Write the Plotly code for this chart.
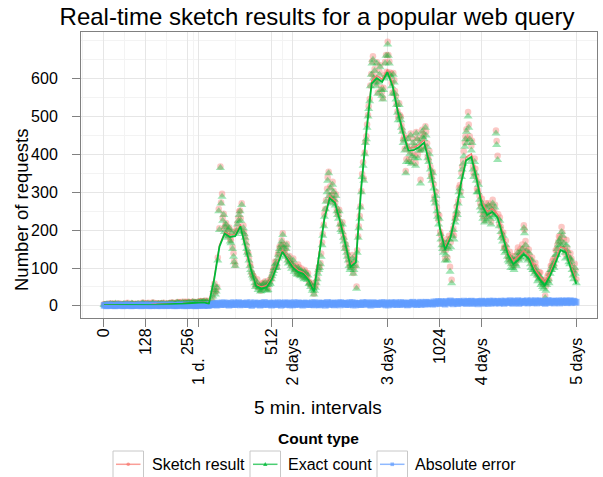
import numpy as np
import plotly.graph_objects as go

# ---------------- data ----------------
# x positions are 5-minute interval indices
tick_vals = [0, 128, 256, 288, 512, 576, 864, 1024, 1152, 1440]
tick_text = ["0", "128", "256", "1 d.", "512", "2 days", "3 days", "1024", "4 days", "5 days"]
is_day_label = [False, False, False, True, False, True, True, False, True, True]
y_ticks = [0, 100, 200, 300, 400, 500, 600]

point_step = 5     # scatter samples every 5 intervals
offset_b = 2       # second sample set starts at interval 2
line_step = 16     # line samples every 16 intervals

# exact counts sampled at t = 0, 5, 10, ...
exact_pts_a = [
    3, 1, 4, 2, 5, 2, 3, 6, 1, 4, 2, 3, 5, 2, 4, 1, 3, 6, 2, 4,
    3, 5, 2, 4, 6, 3, 2, 5, 4, 3, 7, 2, 4, 5, 3, 6, 4, 2, 5, 3,
    6, 4, 7, 5, 3, 8, 6, 4, 9, 5, 7, 6, 8, 5, 10, 7, 9, 6, 8, 11,
    9, 12, 7, 10, 6, 4,
    14, 42, 30, 48, 250, 364, 288, 240, 208, 185, 200, 170, 192, 130,
    105, 198, 225, 250, 266, 205, 180, 150, 135, 105, 88, 75, 60, 55, 42, 52, 40, 58, 45, 55,
    42, 62, 70, 85, 100, 112, 125, 150, 160, 187, 140, 150, 120, 128, 105, 110, 90, 100, 82, 95,
    78, 88, 70, 85, 68, 58, 50, 40, 30, 48, 70, 95, 110, 160, 210, 255, 300, 350, 310, 285,
    300, 265, 250, 230, 215, 195, 180, 150, 140, 120, 95, 110, 85, 120, 45, 180, 230, 300, 370, 400,
    440, 500, 540, 610, 650, 620, 580, 560, 610, 570, 545, 600, 660, 690, 640, 605, 560, 590, 545, 510,
    530, 490, 460, 440, 350, 420, 380, 450, 395, 420, 370, 440, 410, 323, 460, 440, 470, 420, 380, 360,
    330, 310, 270, 250, 215, 190, 160, 140, 120, 165, 150, 90, 60, 200, 220, 250, 270, 310, 340, 375,
    420, 460, 500, 440, 410, 360, 380, 330, 300, 280, 250, 230, 220, 260, 235, 250, 215, 270, 240, 455,
    385, 210, 195, 170, 150, 160, 130, 115, 100, 125, 95, 110, 130, 120, 140, 150, 205, 160, 130, 140,
    110, 120, 95, 100, 80, 70, 75, 60, 45, 21, 55, 70, 85, 95, 110, 120, 135, 160, 175, 195,
    150, 140, 160, 130, 110, 117, 80, 100, 60,
]

# exact counts sampled at t = 2, 7, 12, ...
exact_pts_b = [
    2, 4, 1, 3, 2, 5, 1, 3, 4, 2, 3, 1, 4, 2, 5, 3, 2, 4, 1, 3,
    4, 2, 3, 6, 2, 4, 5, 3, 2, 6, 3, 4, 2, 5, 4, 3, 6, 2, 4, 5,
    5, 7, 4, 6, 8, 5, 7, 5, 6, 8, 6, 9, 7, 6, 8, 9, 7, 10, 8, 9,
    10, 8, 11, 7, 5, 3,
    25, 55, 38, 120, 200, 270, 225, 195, 215, 180, 205, 165, 150, 115, 190, 215, 240, 225, 195, 190,
    165, 140, 120, 95, 80, 70, 50, 62, 48, 38, 52, 48, 62, 40, 55, 58, 78, 92, 110, 100,
    135, 145, 170, 155, 130, 160, 112, 115, 98, 120, 95, 85, 100, 80, 92, 75, 90, 72, 80, 60,
    55, 45, 40, 60, 85, 100, 130, 185, 235, 275, 330, 290, 270, 320, 280, 290, 240, 250, 200, 215,
    170, 160, 130, 105, 100, 125, 95, 105, 140, 205, 260, 340, 330, 430, 470, 520, 580, 640, 600, 590,
    640, 590, 630, 555, 570, 640, 610, 660, 610, 580, 610, 560, 530, 490, 500, 470, 430, 410, 380, 440,
    400, 375, 430, 390, 455, 390, 430, 410, 445, 415, 450, 390, 400, 340, 350, 280, 290, 235, 230, 175,
    150, 160, 135, 120, 175, 155, 185, 175, 230, 240, 300, 290, 360, 395, 440, 430, 470, 380, 430, 340,
    350, 300, 320, 260, 270, 240, 250, 225, 265, 230, 255, 235, 260, 425, 230, 225, 180, 185, 140, 145,
    120, 130, 110, 100, 120, 105, 140, 130, 125, 135, 192, 145, 120, 125, 100, 95, 85, 90, 65, 80,
    55, 50, 60, 40, 65, 60, 95, 105, 100, 135, 150, 170, 160, 185, 165, 125, 145, 115, 125, 95,
    70, 85,
]

# absolute error of the sketch at the same sample times
abs_err_a = [
    1, 2, 0, 3, 1, 2, 1, 0, 2, 3, 1, 2, 0, 1, 3, 2, 1, 0, 2, 1,
    2, 1, 3, 0, 2, 1, 2, 3, 1, 0, 2, 1, 3, 2, 1, 0, 2, 3, 1, 2,
    1, 3, 2, 0, 1, 2, 3, 1, 2, 0, 3, 1, 2, 3, 1, 2, 0, 1, 3, 2,
    2, 1, 3, 2, 1, 4,
    5, 3, 7, 2, 6, 4, 8, 3, 5, 7, 2, 6, 4, 9,
    3, 6, 8, 2, 5, 7, 4, 9, 3, 6, 1, 5, 8, 4, 7, 2, 6, 3, 9, 5,
    4, 7, 2, 8, 5, 3, 9, 6, 1, 5, 7, 3, 8, 4, 6, 2, 9, 5, 3, 7,
    6, 2, 8, 4, 7, 3, 5, 9, 2, 6, 4, 8, 3, 7, 5, 1, 9, 4, 6, 8,
    3, 7, 5, 9, 2, 6, 8, 4, 7, 3, 9, 5, 2, 8, 6, 4, 7, 3, 9, 5,
    8, 4, 6, 2, 9, 5, 7, 3, 8, 6, 4, 9, 2, 7, 5, 8, 3, 6, 9, 4,
    5, 9, 3, 7, 6, 2, 8, 5, 9, 4, 7, 3, 6, 10, 5, 8, 4, 9, 6, 7,
    7, 11, 5, 9, 12, 6, 10, 8, 4, 11, 7, 13, 9, 5, 10, 12, 6, 9, 11, 8,
    10, 6, 12, 8, 13, 7, 9, 11, 5, 10, 12, 8, 6, 11, 9, 13, 7, 10, 12, 8,
    11, 7, 13, 9, 6, 12, 10, 8, 14, 7, 11, 9, 13, 6, 10, 12, 8, 11, 14, 9,
    12, 8, 10, 14, 7, 11, 13, 9, 12, 6, 10, 14, 8, 11, 13, 9, 12, 10, 7, 13,
    11, 9, 14, 10, 12, 8, 13, 11, 10,
]

abs_err_b = [
    2, 0, 1, 3, 2, 1, 0, 2, 1, 3, 2, 0, 1, 2, 3, 1, 0, 2, 1, 2,
    1, 3, 0, 2, 1, 3, 2, 0, 1, 2, 3, 1, 0, 2, 1, 3, 2, 1, 0, 2,
    3, 1, 2, 1, 0, 2, 3, 2, 1, 3, 0, 2, 1, 2, 3, 0, 2, 1, 2, 3,
    1, 2, 3, 1, 2, 3,
    6, 4, 2, 8, 5, 3, 7, 9, 4, 6, 2, 8, 5, 3, 7, 4, 9, 6, 3, 5,
    7, 3, 5, 9, 2, 6, 4, 8, 5, 2, 7, 9, 3, 6, 4, 8, 2, 5, 7, 3,
    5, 8, 3, 6, 9, 4, 7, 2, 8, 5, 3, 6, 9, 4, 7, 2, 5, 8, 6, 3,
    4, 7, 9, 3, 6, 2, 8, 5, 7, 4, 9, 3, 6, 8, 2, 5, 7, 4, 9, 6,
    7, 3, 5, 8, 4, 9, 6, 2, 7, 5, 3, 8, 6, 4, 9, 7, 2, 5, 8, 6,
    3, 7, 5, 9, 6, 4, 8, 2, 6, 9, 5, 7, 3, 8, 4, 6, 9, 5, 7, 3,
    8, 5, 10, 6, 4, 9, 7, 3, 8, 6, 10, 5, 9, 7, 4, 8, 11, 6, 9, 12,
    9, 6, 12, 8, 10, 13, 7, 11, 9, 6, 12, 10, 8, 13, 7, 11, 9, 12, 6, 10,
    12, 9, 7, 11, 13, 8, 10, 12, 6, 11, 9, 13, 7, 10, 12, 8, 11, 9, 13, 10,
    9, 13, 11, 7, 12, 10, 14, 8, 11, 13, 9, 12, 7, 10, 14, 11, 8, 12, 13, 9,
    13, 10, 8, 12, 14, 9, 11, 13, 7, 12, 10, 14, 11, 9, 13, 12, 8, 11, 14, 10,
    12, 9,
]

# smoothed lines sampled every 16 intervals
exact_line = [
    2, 2, 2, 2, 2, 2, 2, 3, 3, 3, 3, 4, 4, 5, 5, 6, 7, 8, 8, 9,
    6, 70, 156, 191, 182, 184, 210, 155, 97, 52, 45, 49, 71, 107, 143, 122, 101, 89, 84, 68,
    38, 134, 230, 284, 272, 223, 166, 103, 115, 309, 458, 587, 601, 591, 617, 580, 512, 456, 410, 411,
    419, 431, 377, 298, 204, 148, 179, 240, 321, 384, 393, 335, 266, 240, 248, 233, 184, 134, 110, 122,
    137, 123, 90, 70, 54, 80, 113, 147, 141, 96, 58,
]

sketch_line = [
    3, 3, 3, 3, 3, 3, 4, 4, 4, 4, 5, 5, 6, 6, 7, 7, 8, 9, 10, 10,
    8, 74, 160, 195, 187, 189, 215, 160, 101, 57, 50, 54, 76, 112, 148, 127, 106, 94, 89, 73,
    43, 139, 235, 290, 278, 229, 172, 109, 121, 315, 465, 594, 608, 598, 624, 587, 519, 463, 417, 418,
    426, 438, 385, 306, 212, 156, 187, 248, 329, 393, 402, 344, 275, 249, 257, 242, 193, 143, 119, 131,
    146, 132, 99, 79, 63, 89, 122, 156, 150, 105, 67,
]

abs_err_line = [
    1, 1, 1, 1, 1, 1, 2, 1, 1, 1, 2, 1, 2, 1, 2, 1, 1, 1, 2, 1,
    2, 4, 4, 4, 5, 5, 5, 5, 4, 5, 5, 5, 5, 5, 5, 5, 5, 5, 5, 5,
    5, 5, 5, 6, 6, 6, 6, 6, 6, 6, 7, 7, 7, 7, 7, 7, 7, 7, 7, 7,
    7, 7, 8, 8, 8, 8, 8, 8, 8, 9, 9, 9, 9, 9, 9, 9, 9, 9, 9, 9,
    9, 9, 9, 9, 9, 9, 9, 9, 9, 9, 9,
]

# ---------------- derived arrays ----------------
t_pts = np.concatenate([np.arange(len(exact_pts_a)) * point_step,
                        np.arange(len(exact_pts_b)) * point_step + offset_b])
exact_pts = np.array(exact_pts_a + exact_pts_b, dtype=float)
abs_err_pts = np.array(abs_err_a + abs_err_b, dtype=float)
order = np.argsort(t_pts, kind="stable")
t_pts, exact_pts, abs_err_pts = t_pts[order], exact_pts[order], abs_err_pts[order]
sketch_pts = exact_pts + abs_err_pts          # the sketch over-estimates by its error
t_line = np.arange(len(exact_line)) * line_step

RED = "#F8766D"
GREEN = "#00BA38"
BLUE = "#619CFF"
FONT = "Liberation Sans, Arial, Helvetica, sans-serif"

W, H = 603, 477
ML, MR, MT, MB = 81, 6, 32, 159
PW, PH = W - ML - MR, H - MT - MB


def px(x):
    return (x - ML) / PW


def py(y):
    return (H - MB - y) / PH


fig = go.Figure()

fig.add_trace(go.Scatter(
    x=t_pts, y=sketch_pts, mode="markers", name="Sketch result",
    marker=dict(symbol="circle", size=6.5, color=RED, opacity=0.4, line=dict(width=0)),
    showlegend=False))
fig.add_trace(go.Scatter(
    x=t_pts, y=exact_pts, mode="markers", name="Exact count",
    marker=dict(symbol="triangle-up", size=8, color=GREEN, opacity=0.38, line=dict(width=0)),
    showlegend=False))
fig.add_trace(go.Scatter(
    x=t_pts, y=abs_err_pts, mode="markers", name="Absolute error",
    marker=dict(symbol="square", size=6.5, color=BLUE, opacity=0.55, line=dict(width=0)),
    showlegend=False))
fig.add_trace(go.Scatter(
    x=t_line, y=sketch_line, mode="lines", name="Sketch result",
    line=dict(color=RED, width=1.2), showlegend=False))
fig.add_trace(go.Scatter(
    x=t_line, y=exact_line, mode="lines", name="Exact count",
    line=dict(color=GREEN, width=1.8), showlegend=False))
fig.add_trace(go.Scatter(
    x=t_line, y=abs_err_line, mode="lines", name="Absolute error",
    line=dict(color=BLUE, width=1.2), showlegend=False))

# ---------------- custom legend ----------------
shapes = []
annotations = []
legend_items = [
    ("Sketch result", RED, "circle", 113, 151),
    ("Exact count", GREEN, "triangle", 250, 287),
    ("Absolute error", BLUE, "square", 377, 414),
]
ky = 464.3
for label, col, sym, bx, tx in legend_items:
    shapes.append(dict(type="rect", xref="paper", yref="paper",
                       x0=px(bx), x1=px(bx + 30.5), y0=py(451), y1=py(482),
                       line=dict(color="#c8c8c8", width=1), fillcolor="white", layer="above"))
    shapes.append(dict(type="line", xref="paper", yref="paper",
                       x0=px(bx + 3), x1=px(bx + 27.5), y0=py(ky), y1=py(ky),
                       line=dict(color=col, width=1.5), opacity=0.7, layer="above"))
    cx = bx + 15.25
    if sym == "circle":
        shapes.append(dict(type="circle", xref="paper", yref="paper",
                           x0=px(cx - 1.8), x1=px(cx + 1.8), y0=py(ky - 1.8), y1=py(ky + 1.8),
                           fillcolor=col, line=dict(width=0), opacity=0.7, layer="above"))
    elif sym == "triangle":
        p = "M {} {} L {} {} L {} {} Z".format(px(cx - 2.2), py(ky + 1.6), px(cx + 2.2), py(ky + 1.6),
                                             px(cx), py(ky - 2.4))
        shapes.append(dict(type="path", xref="paper", yref="paper", path=p,
                           fillcolor=col, line=dict(width=0), opacity=0.8, layer="above"))
    else:
        shapes.append(dict(type="rect", xref="paper", yref="paper",
                           x0=px(cx - 1.8), x1=px(cx + 1.8), y0=py(ky - 1.8), y1=py(ky + 1.8),
                           fillcolor=col, line=dict(width=0), opacity=0.7, layer="above"))
    annotations.append(dict(text=label, xref="paper", yref="paper", x=px(tx - 1), y=py(ky + 0.5),
                            xanchor="left", yanchor="middle", showarrow=False,
                            font=dict(family=FONT, size=16, color="black")))

annotations.append(dict(text="<b>Count type</b>", xref="paper", yref="paper", x=px(318), y=py(438),
                        xanchor="center", yanchor="middle", showarrow=False,
                        font=dict(family=FONT, size=15.5, color="black")))

# day tick labels hang from a common baseline below the numeric ones
axis_text = []
for val, txt, is_day in zip(tick_vals, tick_text, is_day_label):
    if is_day:
        axis_text.append("")
        annotations.append(dict(text=txt, xref="x", yref="paper", x=val, y=py(386),
                                xanchor="center", yanchor="bottom", showarrow=False,
                                textangle=-90, borderpad=0,
                                font=dict(family=FONT, size=16, color="black")))
    else:
        axis_text.append(txt)

# axis titles (centred like the reference, over panel + tick labels)
annotations.append(dict(text="5 min. intervals", xref="paper", yref="paper", x=px(318), y=py(407),
                        xanchor="center", yanchor="middle", showarrow=False,
                        font=dict(family=FONT, size=19, color="black")))
annotations.append(dict(text="Number of requests", xref="paper", yref="paper", x=px(21), y=py(210),
                        xanchor="center", yanchor="middle", showarrow=False, textangle=-90,
                        font=dict(family=FONT, size=18.5, color="black")))

grid_major = "#e6e6e6"
grid_minor = "#f3f3f3"
axis_grey = "#808080"

fig.update_layout(
    width=W, height=H,
    margin=dict(l=ML, r=MR, t=MT, b=MB, pad=0),
    paper_bgcolor="white", plot_bgcolor="white",
    font=dict(family=FONT, color="black"),
    title=dict(text="Real-time sketch results for a popular web query",
               x=317 / W, xref="container", xanchor="center",
               y=1 - 17 / H, yref="container", yanchor="middle",
               font=dict(family=FONT, size=24, color="black")),
    xaxis=dict(
        range=[-70, 1503], tickmode="array", tickvals=tick_vals, ticktext=axis_text,
        tickangle=-90, ticks="outside", ticklen=8, tickcolor=axis_grey, tickwidth=1,
        ticklabelstandoff=-5,
        tickfont=dict(family=FONT, size=16, color="black"),
        showgrid=True, gridcolor=grid_major, gridwidth=1,
        minor=dict(tickvals=[-64, 64, 192, 272, 400, 544, 720, 944, 1088, 1296],
                   showgrid=True, gridcolor=grid_minor, ticks=""),
        showline=True, linecolor=axis_grey, linewidth=1, mirror=True, zeroline=False,
        automargin=False,
    ),
    yaxis=dict(
        range=[-32, 723], tickmode="array", tickvals=y_ticks,
        ticks="outside", ticklen=8, tickcolor=axis_grey, tickwidth=1,
        ticklabelstandoff=11,
        tickfont=dict(family=FONT, size=16, color="black"),
        showgrid=True, gridcolor=grid_major, gridwidth=1,
        minor=dict(tickvals=[50, 150, 250, 350, 450, 550, 650, 700],
                   showgrid=True, gridcolor=grid_minor, ticks=""),
        showline=True, linecolor=axis_grey, linewidth=1, mirror=True, zeroline=False,
        automargin=False,
    ),
    shapes=shapes,
    annotations=annotations,
)

fig.write_html("out.html",
               config={"displayModeBar": False},
               post_script="document.body.style.margin='0';document.body.style.padding='0';")
